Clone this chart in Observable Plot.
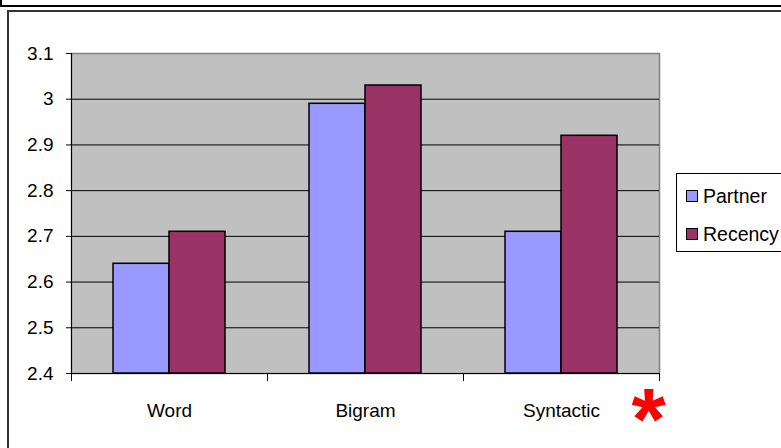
<!DOCTYPE html>
<html>
<head>
<meta charset="utf-8">
<script src="https://cdn.jsdelivr.net/npm/d3@7"></script>
<script src="https://cdn.jsdelivr.net/npm/@observablehq/plot@0.6"></script>
<style>
  html, body { margin: 0; padding: 0; background: #fff; overflow: hidden; }
  #wrap { position: relative; width: 781px; height: 448px; overflow: hidden;
          font-family: "Liberation Sans", Arial, sans-serif; }
  #wrap svg { position: absolute; left: 0; top: 0; }
  .edge { position: absolute; }
  .legend { position: absolute; left: 676px; top: 173px; width: 130px; height: 79px;
            border: 1px solid #000; background: #fff; box-sizing: border-box; }
  .legend .item { position: absolute; left: 0; height: 22px; font-size: 19.5px; line-height: 22px; color: #000; }
  .legend .sw { position: absolute; left: 9px; top: 5px; width: 10px; height: 10px; border: 1px solid #000; }
  .legend .lab { position: absolute; left: 26px; top: 0; white-space: nowrap; }
</style>
</head>
<body>
<div id="wrap"></div>
<script>
// Categories and the two series of mean scores
const categories = ["Word", "Bigram", "Syntactic"];
const seriesNames = ["Partner", "Recency"];
const partner = [2.64, 2.99, 2.71];
const recency = [2.71, 3.03, 2.92];
const seriesColors = ["#9999ff", "#993366"];
const yTicks = [2.4, 2.5, 2.6, 2.7, 2.8, 2.9, 3.0, 3.1];
const gridTicks = [2.5, 2.6, 2.7, 2.8, 2.9, 3.0];

const rows = categories.flatMap((c, i) => [
  {category: c, series: seriesNames[0], value: partner[i]},
  {category: c, series: seriesNames[1], value: recency[i]}
]);

const W = 781, H = 448;
const mL = 71, mR = 122, mT = 53, mB = 75;
const band = (W - mL - mR) / categories.length;   // width of one category
const barW = band / 3.5;                          // Excel gap width of 75%
const gap = barW * 0.75;

const chart = Plot.plot({
  width: W,
  height: H,
  marginLeft: mL,
  marginRight: mR,
  marginTop: mT,
  marginBottom: mB,
  style: {fontFamily: "'Liberation Sans', Arial, sans-serif", fontSize: "19px", color: "#000", background: "transparent"},
  x: {domain: categories, padding: 0, label: null},
  y: {domain: [2.4, 3.1], label: null},
  marks: [
    Plot.frame({fill: "#c0c0c0", stroke: "#808080", strokeWidth: 1.5}),
    Plot.gridY(gridTicks, {stroke: "#000", strokeOpacity: 1, strokeWidth: 1}),
    Plot.barY(rows.filter(d => d.series === seriesNames[0]), {
      x: "category", y1: 2.4, y2: "value", fill: seriesColors[0],
      stroke: "#000", strokeWidth: 1.5,
      insetLeft: gap, insetRight: band - gap - barW
    }),
    Plot.barY(rows.filter(d => d.series === seriesNames[1]), {
      x: "category", y1: 2.4, y2: "value", fill: seriesColors[1],
      stroke: "#000", strokeWidth: 1.5,
      insetLeft: gap + barW, insetRight: gap
    }),
    // axis lines
    Plot.ruleY([2.4], {stroke: "#000", strokeWidth: 1}),
    Plot.ruleX([categories[0]], {dx: -band / 2, stroke: "#000", strokeWidth: 1}),
    // category boundary ticks below the axis
    Plot.ruleX(categories, {x: d => d, dx: -band / 2, y1: 2.4, y2: 2.4, insetBottom: -8, stroke: "#000"}),
    Plot.ruleX([categories[categories.length - 1]], {x: d => d, dx: band / 2, y1: 2.4, y2: 2.4, insetBottom: -8, stroke: "#000"}),
    Plot.axisY({ticks: yTicks, tickSize: 5, tickPadding: 13, tickFormat: d3.format("~g"), label: null, stroke: "#000"}),
    Plot.axisX({tickSize: 0, tickPadding: 30, label: null}),
    // red asterisk marking the Syntactic condition
    Plot.text(["*"], {frameAnchor: "bottom-right", text: d => d, textAnchor: "middle", lineAnchor: "middle",
      dx: -11, dy: 47, fill: "#ff0000", fontSize: 88, fontWeight: "bold"})
  ]
});

const wrap = document.getElementById("wrap");
wrap.appendChild(chart);

// legend box
const legend = document.createElement("div");
legend.className = "legend";
seriesNames.forEach((name, i) => {
  const item = document.createElement("div");
  item.className = "item";
  item.style.top = (i === 0 ? 11 : 49) + "px";
  const sw = document.createElement("div");
  sw.className = "sw";
  sw.style.background = seriesColors[i];
  const lab = document.createElement("div");
  lab.className = "lab";
  lab.textContent = name;
  item.appendChild(sw);
  item.appendChild(lab);
  legend.appendChild(item);
});
wrap.appendChild(legend);

// surrounding frame edges
function edge(l, t, w, h, c) {
  const e = document.createElement("div");
  e.className = "edge";
  Object.assign(e.style, {left: l + "px", top: t + "px", width: w + "px", height: h + "px", background: c});
  wrap.appendChild(e);
}
edge(0, 5, W, 2, "#000");
edge(0, 0, 2, 7, "#000");
edge(7, 10, W, 2, "#333");
edge(7, 10, 2, H, "#333");
</script>
</body>
</html>
